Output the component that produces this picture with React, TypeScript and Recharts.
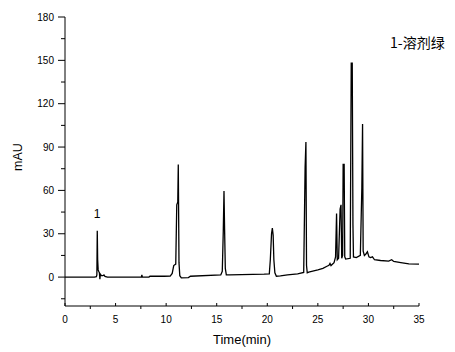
import { LineChart, Line, XAxis, YAxis } from "recharts"

// retention time (min) and absorbance (mAU)
const TIME = [
  0, 2.9, 3.1, 3.15, 3.19, 3.23, 3.28, 3.33, 3.4, 3.45, 3.5, 3.6, 3.75, 3.85, 3.95, 4.2,
  7.55, 7.6, 7.65, 8.3, 8.4, 9.8, 10.4, 10.6, 10.75, 10.95, 11.05, 11.15, 11.2, 11.27, 11.35, 11.5,
  12.2, 12.4, 15.4, 15.55, 15.65, 15.72, 15.78, 15.85, 15.95, 16.3, 19.7, 20.2, 20.3, 20.42, 20.5,
  20.58, 20.65, 20.75, 20.9, 21.3, 22.0, 23.0, 23.6, 23.74, 23.82, 23.88, 23.95, 24.1, 25.0, 25.5,
  25.9, 26.1, 26.2, 26.3, 26.6, 26.75, 26.85, 26.92, 27.05, 27.2, 27.29, 27.36, 27.45, 27.5, 27.6,
  27.66, 27.75, 28.2, 28.3, 28.4, 28.47, 28.52, 28.8, 29.2, 29.35, 29.42, 29.48, 29.6, 29.75, 29.9,
  30.05, 30.2, 30.4, 30.6, 31.2, 32.0, 32.3, 32.5, 33.2, 34.0, 35,
]
const MAU = [
  0, 0, 0.3, 1.5, 32, 12, 5, 4, 3, -1.5, 2, 1, 1, 1.5, 0.5, 0,
  0, 1.5, 0, 0, 0.6, 0.6, 0.7, 2.5, 8, 9, 50, 52, 78, 10, 1, -0.5,
  -0.3, 0.6, 1.5, 4, 32, 59.5, 33, 6, 1.5, 1.5, 2, 2.3, 12, 30, 34,
  29, 12, 3, 0.6, 0.8, 1.5, 2.3, 3.2, 76, 93.5, 8, 3, 3.5, 5, 6,
  7.5, 8.2, 9.5, 8, 10, 14, 44, 12, 13, 47, 50, 13, 15, 78, 78,
  14, 12.5, 13, 148, 148, 36, 14, 13.5, 15, 62, 106, 18, 15, 16, 17.5,
  14, 13.5, 14, 12, 11.5, 11, 12, 10.8, 10, 9.2, 9,
]

const X_TICKS = [0, 2.5, 5, 7.5, 10, 12.5, 15, 17.5, 20, 22.5, 25, 27.5, 30, 32.5, 35]
const Y_TICKS = [-15, 0, 15, 30, 45, 60, 75, 90, 105, 120, 135, 150, 165, 180]

const data = TIME.map((t, i) => ({ t, v: MAU[i] }))

const FONT = "Arial, 'Liberation Sans', sans-serif"

function XTick({ x, y, payload }: any) {
  const major = payload.value % 5 === 0
  return (
    <g>
      <line x1={x} x2={x} y1={y} y2={major ? y - 3 : y + 3} stroke="#000" />
      {major && (
        <text x={x} y={y + 17} textAnchor="middle" fontSize={10} fontFamily={FONT} fill="#000">
          {payload.value}
        </text>
      )}
    </g>
  )
}

function YTick({ x, y, payload }: any) {
  const major = payload.value % 30 === 0
  return (
    <g>
      <line x1={x} x2={x - (major ? 7 : 4)} y1={y} y2={y} stroke="#000" />
      {major && (
        <text x={x - 11} y={y + 3.5} textAnchor="end" fontSize={10} fontFamily={FONT} fill="#000">
          {payload.value}
        </text>
      )}
    </g>
  )
}

export default function App() {
  return (
    <div style={{ position: "relative", width: 455, height: 352, background: "#fff" }}>
      <style>{"body{margin:0}"}</style>
      <LineChart width={455} height={352} data={data} margin={{ top: 17, right: 36, bottom: 16, left: 0 }}>
        <XAxis
          dataKey="t"
          type="number"
          domain={[0, 35]}
          ticks={X_TICKS}
          interval={0}
          height={30}
          tickLine={false}
          tickSize={0}
          tickMargin={0}
          tick={<XTick />}
          axisLine={{ stroke: "#000" }}
        />
        <YAxis
          type="number"
          domain={[-20, 180]}
          ticks={Y_TICKS}
          interval={0}
          width={65}
          tickLine={false}
          tickSize={0}
          tickMargin={0}
          tick={<YTick />}
          axisLine={{ stroke: "#000" }}
        />
        <Line
          dataKey="v"
          type="linear"
          stroke="#000"
          strokeWidth={1.3}
          dot={false}
          isAnimationActive={false}
        />
      </LineChart>
      <svg width={455} height={352} style={{ position: "absolute", left: 0, top: 0, pointerEvents: "none" }}>
        <text x={242} y={344} textAnchor="middle" fontSize={13} fontFamily={FONT} fill="#000">
          Time(min)
        </text>
        <text x={22} y={157} textAnchor="middle" fontSize={12.5} fontFamily={FONT} fill="#000" transform="rotate(-90 22 157)">
          mAU
        </text>
        <text x={97} y={218} textAnchor="middle" fontSize={12} fontFamily={FONT} fill="#000">
          1
        </text>
        <text x={390} y={48} fontSize={14} fontFamily="'Noto Sans CJK SC', sans-serif" fill="#000">
          1-溶剂绿
        </text>
      </svg>
    </div>
  )
}
